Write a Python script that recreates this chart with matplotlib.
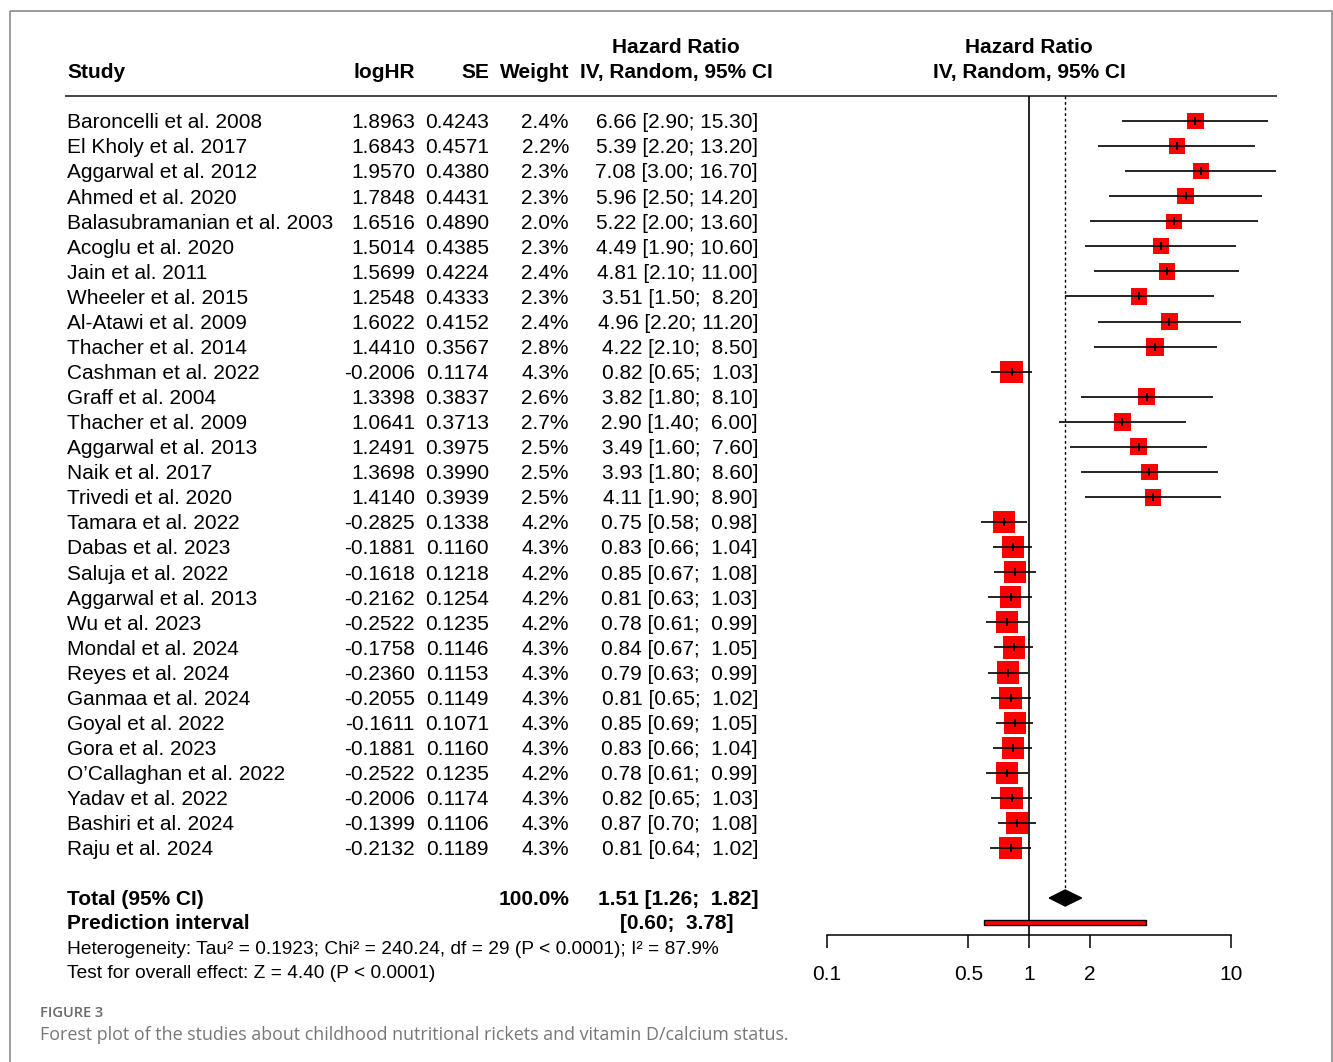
import numpy as np
import matplotlib
matplotlib.use('Agg')
import matplotlib.pyplot as plt
from matplotlib.patches import Rectangle, Polygon
from matplotlib.ticker import NullLocator, FixedLocator, FixedFormatter

studies = ['Baroncelli et al. 2008', 'El Kholy et al. 2017', 'Aggarwal et al. 2012', 'Ahmed et al. 2020',
           'Balasubramanian et al. 2003', 'Acoglu et al. 2020', 'Jain et al. 2011', 'Wheeler et al. 2015',
           'Al-Atawi et al. 2009', 'Thacher et al. 2014', 'Cashman et al. 2022', 'Graff et al. 2004',
           'Thacher et al. 2009', 'Aggarwal et al. 2013', 'Naik et al. 2017', 'Trivedi et al. 2020',
           'Tamara et al. 2022', 'Dabas et al. 2023', 'Saluja et al. 2022', 'Aggarwal et al. 2013',
           'Wu et al. 2023', 'Mondal et al. 2024', 'Reyes et al. 2024', 'Ganmaa et al. 2024',
           'Goyal et al. 2022', 'Gora et al. 2023', 'O\u2019Callaghan et al. 2022', 'Yadav et al. 2022',
           'Bashiri et al. 2024', 'Raju et al. 2024']
loghr = [1.8963, 1.6843, 1.9570, 1.7848, 1.6516, 1.5014, 1.5699, 1.2548, 1.6022, 1.4410,
         -0.2006, 1.3398, 1.0641, 1.2491, 1.3698, 1.4140, -0.2825, -0.1881, -0.1618, -0.2162,
         -0.2522, -0.1758, -0.2360, -0.2055, -0.1611, -0.1881, -0.2522, -0.2006, -0.1399, -0.2132]
se = [0.4243, 0.4571, 0.4380, 0.4431, 0.4890, 0.4385, 0.4224, 0.4333, 0.4152, 0.3567,
      0.1174, 0.3837, 0.3713, 0.3975, 0.3990, 0.3939, 0.1338, 0.1160, 0.1218, 0.1254,
      0.1235, 0.1146, 0.1153, 0.1149, 0.1071, 0.1160, 0.1235, 0.1174, 0.1106, 0.1189]
weight = [2.4, 2.2, 2.3, 2.3, 2.0, 2.3, 2.4, 2.3, 2.4, 2.8,
          4.3, 2.6, 2.7, 2.5, 2.5, 2.5, 4.2, 4.3, 4.2, 4.2,
          4.2, 4.3, 4.3, 4.3, 4.3, 4.3, 4.2, 4.3, 4.3, 4.3]
hr = [6.66, 5.39, 7.08, 5.96, 5.22, 4.49, 4.81, 3.51, 4.96, 4.22,
      0.82, 3.82, 2.90, 3.49, 3.93, 4.11, 0.75, 0.83, 0.85, 0.81,
      0.78, 0.84, 0.79, 0.81, 0.85, 0.83, 0.78, 0.82, 0.87, 0.81]
ci_lo = [2.90, 2.20, 3.00, 2.50, 2.00, 1.90, 2.10, 1.50, 2.20, 2.10,
         0.65, 1.80, 1.40, 1.60, 1.80, 1.90, 0.58, 0.66, 0.67, 0.63,
         0.61, 0.67, 0.63, 0.65, 0.69, 0.66, 0.61, 0.65, 0.70, 0.64]
ci_hi = [15.30, 13.20, 16.70, 14.20, 13.60, 10.60, 11.00, 8.20, 11.20, 8.50,
         1.03, 8.10, 6.00, 7.60, 8.60, 8.90, 0.98, 1.04, 1.08, 1.03,
         0.99, 1.05, 0.99, 1.02, 1.05, 1.04, 0.99, 1.03, 1.08, 1.02]

total_weight = 100.0
total_hr, total_lo, total_hi = 1.51, 1.26, 1.82
pred_lo, pred_hi = 0.60, 3.78
het_text = 'Heterogeneity: Tau\u00b2 = 0.1923; Chi\u00b2 = 240.24, df = 29 (P < 0.0001); I\u00b2 = 87.9%'
effect_text = 'Test for overall effect: Z = 4.40 (P < 0.0001)'
tick_vals = [0.1, 0.5, 1, 2, 10]
tick_labels = ['0.1', '0.5', '1', '2', '10']

W, H = 1333, 1062
plt.rcParams['font.family'] = ['Liberation Sans', 'DejaVu Sans']
fs = 15

fig = plt.figure(figsize=(W / 100, H / 100), dpi=100)

# text layer in pixel coords
bg = fig.add_axes([0, 0, 1, 1])
bg.set_xlim(0, W)
bg.set_ylim(H, 0)
bg.axis('off')

# forest layer: log x, 1 at px 1029, one decade = 202 px
x1, dec = 1029, 202
ax = fig.add_axes([0, 0, 1, 1])
ax.set_xscale('log')
ax.set_xlim(10 ** ((0 - x1) / dec), 10 ** ((W - x1) / dec))
ax.set_ylim(H, 0)
ax.patch.set_alpha(0)
for s in ['top', 'left', 'right']:
    ax.spines[s].set_visible(False)
ax.set_yticks([])

row0, row_h = 121, 25.07
ys = row0 + row_h * np.arange(len(studies))
y_tot, y_pred, y_axis, y_head = 898, 922, 935, 96
dy = 1.8  # text nudge so glyphs sit centred on the row

# frame + header
bg.add_patch(Rectangle((10, 11), 1322, 1100, fill=False, ec='#8a8a8a', lw=1.2, clip_on=False))
bg.plot([66, 1276], [y_head, y_head], color='#444444', lw=1.4)

col_study, col_log, col_se, col_w, col_ci, col_ci_c = 67, 415, 489, 569, 758, 676
bg.text(col_study, 71 + dy, 'Study', fontsize=fs, fontweight='bold', va='center')
bg.text(col_log, 71 + dy, 'logHR', fontsize=fs, fontweight='bold', va='center', ha='right')
bg.text(col_se, 71 + dy, 'SE', fontsize=fs, fontweight='bold', va='center', ha='right')
bg.text(col_w, 71 + dy, 'Weight', fontsize=fs, fontweight='bold', va='center', ha='right')
bg.text(col_ci_c, 46 + dy, 'Hazard Ratio', fontsize=fs, fontweight='bold', va='center', ha='center')
bg.text(col_ci_c, 71 + dy, 'IV, Random, 95% CI', fontsize=fs, fontweight='bold', va='center', ha='center')
bg.text(x1, 46 + dy, 'Hazard Ratio', fontsize=fs, fontweight='bold', va='center', ha='center')
bg.text(x1, 71 + dy, 'IV, Random, 95% CI', fontsize=fs, fontweight='bold', va='center', ha='center')

for i, y in enumerate(ys):
    y = y + dy
    bg.text(col_study, y, studies[i], fontsize=fs, va='center')
    bg.text(col_log, y, f'{loghr[i]:.4f}', fontsize=fs, va='center', ha='right')
    bg.text(col_se, y, f'{se[i]:.4f}', fontsize=fs, va='center', ha='right')
    bg.text(col_w, y, f'{weight[i]:.1f}%', fontsize=fs, va='center', ha='right')
    bg.text(col_ci, y, f'{hr[i]:.2f} [{ci_lo[i]:.2f}; {ci_hi[i]:5.2f}]', fontsize=fs, va='center', ha='right')

bg.text(col_study, y_tot + dy, 'Total (95% CI)', fontsize=fs, fontweight='bold', va='center')
bg.text(col_w, y_tot + dy, f'{total_weight:.1f}%', fontsize=fs, fontweight='bold', va='center', ha='right')
bg.text(col_ci, y_tot + dy, f'{total_hr:.2f} [{total_lo:.2f}; {total_hi:5.2f}]', fontsize=fs,
        fontweight='bold', va='center', ha='right')
bg.text(col_study, y_pred + dy, 'Prediction interval', fontsize=fs, fontweight='bold', va='center')
bg.text(733, y_pred + dy, f'[{pred_lo:.2f}; {pred_hi:5.2f}]', fontsize=fs, fontweight='bold',
        va='center', ha='right')
bg.text(col_study, 948 + dy, het_text, fontsize=13.75, va='center')
bg.text(col_study, 972 + dy, effect_text, fontsize=13.75, va='center')

bg.text(40, 1013, 'FIGURE 3', fontsize=10.5, fontweight='semibold', color='#6a6a6a',
        va='center', family=['Open Sans', 'DejaVu Sans'])
bg.text(40, 1035, 'Forest plot of the studies about childhood nutritional rickets and vitamin D/calcium status.',
        fontsize=12.9, color='#777777', va='center', family=['Open Sans', 'DejaVu Sans'])

# forest marks
ax.vlines(1, y_head, y_axis, color='black', lw=1.2)
ax.vlines(total_hr, y_head, y_tot - 8, color='black', lw=1.0, linestyles=(0, (2, 2)))
sides = 10.7 * np.sqrt(np.array(weight)) * 0.72
ax.scatter(hr, ys, marker='s', s=sides ** 2, color='#ff0000', edgecolors='none', zorder=2)
ax.hlines(ys, ci_lo, ci_hi, color='black', lw=1.2, zorder=3)
ax.plot(hr, ys, ls='none', marker='|', ms=6, mew=1.3, color='black', zorder=4)

ax.add_patch(Polygon([(total_lo, y_tot), (total_hr, y_tot - 8), (total_hi, y_tot), (total_hr, y_tot + 8)],
                     closed=True, color='black', zorder=3))
ax.barh(y_pred, pred_hi - pred_lo, left=pred_lo, height=5, color='#ff0000', edgecolor='black', lw=1.0, zorder=3)

ax.spines['bottom'].set_position(('data', y_axis))
ax.spines['bottom'].set_bounds(0.1, 10)
ax.spines['bottom'].set_linewidth(1.1)
ax.xaxis.set_major_locator(FixedLocator(tick_vals))
ax.xaxis.set_major_formatter(FixedFormatter(tick_labels))
ax.xaxis.set_minor_locator(NullLocator())
ax.tick_params(axis='x', direction='out', length=9, width=1.1, labelsize=fs, pad=12.5)

fig.savefig('out.png', dpi=100)
